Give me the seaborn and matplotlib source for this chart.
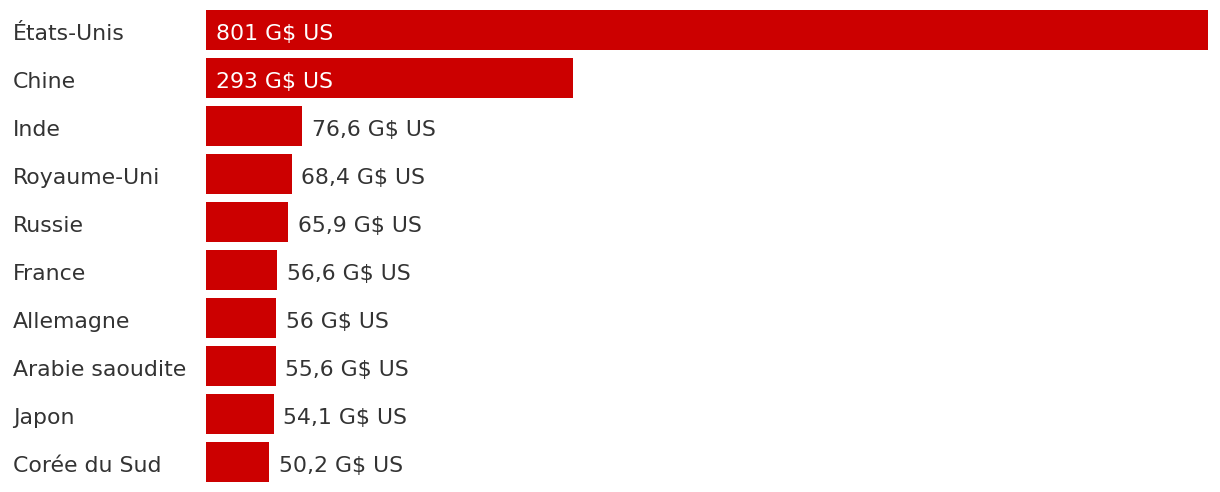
import matplotlib
matplotlib.use("Agg")
import matplotlib.pyplot as plt
import matplotlib.transforms as mtransforms
import seaborn as sns
import pandas as pd

# Data
countries = ["États-Unis", "Chine", "Inde", "Royaume-Uni", "Russie", "France",
             "Allemagne", "Arabie saoudite", "Japon", "Corée du Sud"]
values = [801, 293, 76.6, 68.4, 65.9, 56.6, 56, 55.6, 54.1, 50.2]
labels = ["801 G$ US", "293 G$ US", "76,6 G$ US", "68,4 G$ US", "65,9 G$ US",
          "56,6 G$ US", "56 G$ US", "55,6 G$ US", "54,1 G$ US", "50,2 G$ US"]

df = pd.DataFrame({"pays": countries, "valeur": values})

sns.set_style("white")
plt.rcParams["font.family"] = ["DejaVu Sans"]

fig = plt.figure(figsize=(12.2, 4.92), dpi=100)
ax = fig.add_axes([206 / 1220, 6 / 492, 1002 / 1220, 480 / 492])

sns.barplot(data=df, x="valeur", y="pays", color="#cc0000", saturation=1,
            width=0.833, linewidth=0, ax=ax)

ax.set_xlim(0, 801)
ax.set_ylim(9.5, -0.5)
ax.set_xlabel("")
ax.set_ylabel("")
ax.set_xticks([])
ax.set_yticks([])
sns.despine(ax=ax, left=True, bottom=True)

fs = 15.8
trans = mtransforms.blended_transform_factory(fig.transFigure, ax.transData)
for i, (c, v, lab) in enumerate(zip(countries, values, labels)):
    ax.annotate(c, (13 / 1220, i), xycoords=trans, xytext=(0, -7.2),
                textcoords="offset points", ha="left", va="baseline",
                fontsize=fs, color="#333333")
    if v > 200:
        ax.annotate(lab, (0, i), xytext=(7, -7.2), textcoords="offset points",
                    ha="left", va="baseline", fontsize=fs, color="white")
    else:
        ax.annotate(lab, (v, i), xytext=(7, -7.2), textcoords="offset points",
                    ha="left", va="baseline", fontsize=fs, color="#333333")

fig.savefig("out.png", dpi=100)
